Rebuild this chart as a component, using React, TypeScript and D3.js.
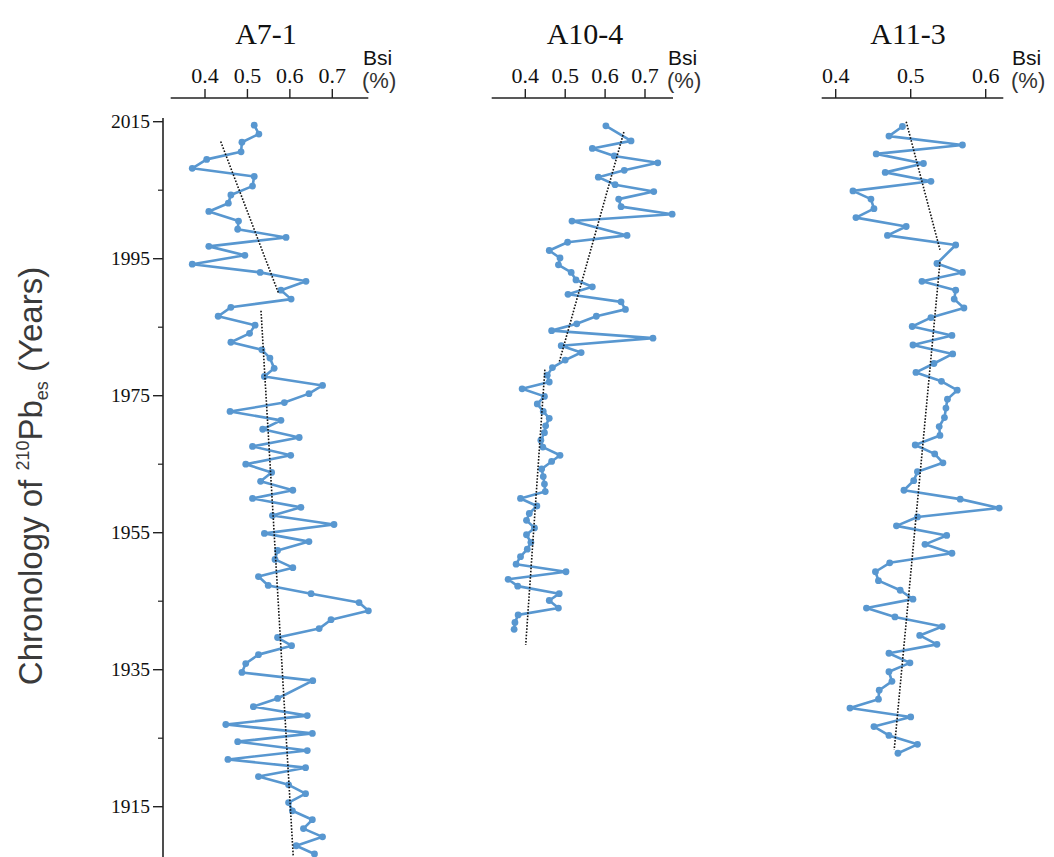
import React from 'react';
import * as d3 from 'd3';

// ---------- data ----------
const yearTicks = [2015, 1995, 1975, 1955, 1935, 1915];
const minorYearTicks = [2005, 1985, 1965, 1945, 1925];

const panelTitles = ['A7-1', 'A10-4', 'A11-3'];
const a7Ticks = [0.4, 0.5, 0.6, 0.7];
const a10Ticks = [0.4, 0.5, 0.6, 0.7];
const a11Ticks = [0.4, 0.5, 0.6];

const a7Years = [2014.5, 2013.2, 2012.0, 2010.6, 2009.5, 2008.2, 2007.0, 2005.6, 2004.3, 2003.1, 2001.9, 2000.5, 1999.3, 1998.1, 1996.8, 1995.5, 1994.2, 1993.0, 1991.7, 1990.4, 1989.1, 1987.9, 1986.6, 1985.3, 1984.1, 1982.8, 1981.7, 1980.5, 1979.0, 1977.8, 1976.5, 1975.3, 1974.0, 1972.7, 1971.4, 1970.1, 1968.9, 1967.6, 1966.3, 1965.0, 1963.8, 1962.5, 1961.2, 1960.0, 1958.7, 1957.5, 1956.2, 1954.9, 1953.7, 1952.4, 1951.1, 1949.9, 1948.6, 1947.3, 1946.1, 1944.8, 1943.6, 1942.3, 1941.0, 1939.7, 1938.5, 1937.2, 1935.9, 1934.6, 1933.4, 1930.8, 1929.6, 1928.3, 1927.0, 1925.7, 1924.5, 1923.2, 1921.9, 1920.7, 1919.4, 1918.2, 1916.9, 1915.6, 1914.4, 1913.1, 1911.8, 1910.6, 1909.3, 1908.1];
const a7Bsi = [0.516, 0.527, 0.487, 0.485, 0.404, 0.370, 0.516, 0.512, 0.461, 0.455, 0.409, 0.479, 0.477, 0.591, 0.409, 0.494, 0.370, 0.530, 0.638, 0.579, 0.603, 0.461, 0.431, 0.518, 0.505, 0.461, 0.534, 0.553, 0.563, 0.540, 0.677, 0.645, 0.587, 0.459, 0.579, 0.536, 0.622, 0.512, 0.602, 0.496, 0.557, 0.531, 0.607, 0.512, 0.626, 0.559, 0.704, 0.540, 0.645, 0.571, 0.565, 0.607, 0.526, 0.549, 0.650, 0.763, 0.785, 0.697, 0.669, 0.571, 0.604, 0.526, 0.496, 0.487, 0.654, 0.571, 0.514, 0.641, 0.449, 0.653, 0.477, 0.641, 0.454, 0.637, 0.526, 0.597, 0.637, 0.597, 0.606, 0.653, 0.632, 0.677, 0.615, 0.658];

const a10Years = [2014.4, 2012.2, 2011.1, 2010.0, 2009.0, 2007.9, 2006.9, 2005.8, 2004.8, 2003.7, 2002.6, 2001.5, 2000.5, 1998.4, 1997.4, 1996.2, 1995.1, 1994.1, 1993.0, 1991.9, 1990.9, 1989.8, 1988.7, 1987.6, 1986.6, 1985.5, 1984.5, 1983.4, 1982.3, 1981.3, 1980.2, 1979.1, 1978.0, 1977.0, 1976.0, 1974.9, 1973.8, 1972.7, 1971.7, 1970.6, 1969.6, 1968.5, 1967.5, 1966.3, 1965.4, 1964.3, 1963.2, 1962.1, 1961.0, 1960.0, 1958.9, 1957.8, 1956.8, 1955.7, 1954.7, 1953.6, 1952.6, 1951.5, 1950.4, 1949.3, 1948.2, 1947.2, 1946.1, 1945.1, 1944.0, 1943.0, 1941.9, 1940.9];
const a10Bsi = [0.602, 0.665, 0.568, 0.623, 0.732, 0.648, 0.583, 0.625, 0.722, 0.634, 0.640, 0.768, 0.517, 0.655, 0.506, 0.460, 0.487, 0.483, 0.515, 0.527, 0.568, 0.507, 0.640, 0.651, 0.578, 0.529, 0.466, 0.720, 0.490, 0.540, 0.500, 0.468, 0.455, 0.460, 0.392, 0.448, 0.430, 0.445, 0.460, 0.451, 0.448, 0.439, 0.444, 0.487, 0.466, 0.441, 0.445, 0.448, 0.450, 0.388, 0.429, 0.410, 0.403, 0.423, 0.403, 0.414, 0.405, 0.388, 0.377, 0.502, 0.357, 0.381, 0.485, 0.460, 0.483, 0.382, 0.374, 0.372];

const a11Years = [2014.3, 2012.9, 2011.6, 2010.3, 2008.9, 2007.6, 2006.3, 2004.9, 2003.7, 2002.3, 2001.0, 1999.7, 1998.4, 1997.0, 1994.3, 1993.0, 1991.7, 1990.4, 1989.1, 1987.8, 1986.4, 1985.1, 1983.8, 1982.4, 1981.1, 1979.7, 1978.4, 1977.1, 1975.8, 1974.5, 1973.2, 1971.8, 1970.5, 1969.2, 1967.8, 1966.5, 1965.2, 1963.9, 1962.6, 1961.2, 1959.9, 1958.6, 1957.3, 1956.0, 1954.6, 1953.3, 1952.0, 1950.6, 1949.3, 1948.0, 1946.6, 1945.3, 1944.0, 1942.7, 1941.3, 1940.0, 1938.7, 1937.4, 1936.0, 1934.7, 1933.3, 1932.0, 1930.7, 1929.4, 1928.1, 1926.7, 1925.4, 1924.1, 1922.8];
const a11Bsi = [0.489, 0.471, 0.569, 0.454, 0.517, 0.466, 0.527, 0.423, 0.447, 0.451, 0.427, 0.494, 0.469, 0.560, 0.535, 0.569, 0.515, 0.560, 0.558, 0.571, 0.527, 0.502, 0.555, 0.503, 0.556, 0.531, 0.507, 0.541, 0.562, 0.549, 0.547, 0.545, 0.538, 0.539, 0.506, 0.532, 0.543, 0.509, 0.504, 0.491, 0.566, 0.618, 0.509, 0.481, 0.548, 0.519, 0.555, 0.472, 0.453, 0.457, 0.486, 0.503, 0.441, 0.479, 0.542, 0.512, 0.535, 0.471, 0.499, 0.471, 0.475, 0.458, 0.457, 0.419, 0.500, 0.451, 0.471, 0.509, 0.483];

// trend line segments: [start, end]
const a7TrendYears = [[2012.1, 1990.0], [1987.4, 1907.7]];
const a7TrendBsi = [[0.437, 0.573], [0.532, 0.608]];
const a10TrendYears = [[2013.5, 1979.9], [1978.8, 1938.6]];
const a10TrendBsi = [[0.647, 0.485], [0.449, 0.401]];
const a11TrendYears = [[2015.0, 1996.3], [1994.5, 1923.3]];
const a11TrendBsi = [[0.494, 0.539], [0.539, 0.478]];

// ---------- layout ----------
const W = 1054;
const H = 857;
const LINE_COLOR = '#5897d0';
const AXIS_COLOR = '#222';
const SERIF = '"Liberation Serif", "Times New Roman", serif';
const SANS = '"Liberation Sans", Arial, sans-serif';

const yScale = d3.scaleLinear().domain([2015, 1915]).range([121.7, 806.7]);

interface PanelDef {
  title: string;
  ticks: number[];
  anchor: [number, number];
  anchorPx: [number, number];
  extent: [number, number];
  titleX: number;
  unitX: number;
  years: number[];
  bsi: number[];
  trendYears: number[][];
  trendBsi: number[][];
}

const panels: PanelDef[] = [
  { title: panelTitles[0], ticks: a7Ticks, anchor: [0.4, 0.7], anchorPx: [205, 332.3], extent: [170.7, 368.3], titleX: 266, unitX: 363, years: a7Years, bsi: a7Bsi, trendYears: a7TrendYears, trendBsi: a7TrendBsi },
  { title: panelTitles[1], ticks: a10Ticks, anchor: [0.4, 0.7], anchorPx: [525.3, 645], extent: [491.7, 673], titleX: 585, unitX: 668, years: a10Years, bsi: a10Bsi, trendYears: a10TrendYears, trendBsi: a10TrendBsi },
  { title: panelTitles[2], ticks: a11Ticks, anchor: [0.4, 0.6], anchorPx: [835.7, 985.7], extent: [821.7, 1003.3], titleX: 908, unitX: 1012, years: a11Years, bsi: a11Bsi, trendYears: a11TrendYears, trendBsi: a11TrendBsi },
];

const AXIS_Y = 98;

function Panel({ p }: { p: PanelDef }) {
  const x = d3.scaleLinear().domain(p.anchor).range(p.anchorPx);
  const pts = p.years.map((yr, i) => ({ yr, v: p.bsi[i] }));
  const line = d3.line<{ yr: number; v: number }>().x((d) => x(d.v)).y((d) => yScale(d.yr));
  return (
    <g>
      <text x={p.titleX} y={44} textAnchor="middle" fontFamily={SERIF} fontSize={30} fill="#111">{p.title}</text>
      <line x1={p.extent[0]} x2={p.extent[1]} y1={AXIS_Y} y2={AXIS_Y} stroke={AXIS_COLOR} strokeWidth={1.6} />
      {p.ticks.map((t) => (
        <g key={t}>
          <line x1={x(t)} x2={x(t)} y1={AXIS_Y} y2={AXIS_Y - 9} stroke={AXIS_COLOR} strokeWidth={1.4} />
          <text x={x(t)} y={83} textAnchor="middle" fontFamily={SERIF} fontSize={22} fill="#111">{t.toFixed(1)}</text>
        </g>
      ))}
      <text x={p.unitX} y={65} fontFamily={SANS} fontSize={21} fill="#111">Bsi</text>
      <text x={p.unitX - 1} y={88} fontFamily={SANS} fontSize={22} fill="#333">(%)</text>
      <path d={line(pts) || ''} fill="none" stroke={LINE_COLOR} strokeWidth={2.6} strokeLinejoin="round" />
      {pts.map((d, i) => (
        <circle key={i} cx={x(d.v)} cy={yScale(d.yr)} r={3.4} fill={LINE_COLOR} />
      ))}
      {p.trendYears.map((ty, i) => (
        <line key={'t' + i} x1={x(p.trendBsi[i][0])} y1={yScale(ty[0])} x2={x(p.trendBsi[i][1])} y2={yScale(ty[1])} stroke="#111" strokeWidth={1.6} strokeDasharray="1.6,1.6" />
      ))}
    </g>
  );
}

export default function App() {
  const axisX = 163;
  return (
    <svg width={W} height={H} style={{ position: 'absolute', left: 0, top: 0, background: '#fff' }}>
      <rect width={W} height={H} fill="#fff" />
      {/* y axis */}
      <line x1={axisX} x2={axisX} y1={118} y2={H} stroke={AXIS_COLOR} strokeWidth={1.6} />
      {yearTicks.map((t) => (
        <g key={t}>
          <line x1={axisX - 10} x2={axisX} y1={yScale(t)} y2={yScale(t)} stroke={AXIS_COLOR} strokeWidth={1.4} />
          <text x={axisX - 13} y={yScale(t) + 6} textAnchor="end" fontFamily={SERIF} fontSize={19.5} fill="#111">{t}</text>
        </g>
      ))}
      {minorYearTicks.map((t) => (
        <line key={t} x1={axisX - 5} x2={axisX} y1={yScale(t)} y2={yScale(t)} stroke={AXIS_COLOR} strokeWidth={1.2} />
      ))}
      <text transform="translate(42,476) rotate(-90)" textAnchor="middle" fontFamily={SANS} fontSize={33} fill="#3a3a3a">
        Chronology of <tspan fontSize={18} dy={-13}>210</tspan><tspan dy={13}>Pb</tspan><tspan fontSize={18} dy={6}>es</tspan><tspan dy={-6}> (Years)</tspan>
      </text>
      {panels.map((p) => (
        <Panel key={p.title} p={p} />
      ))}
    </svg>
  );
}
